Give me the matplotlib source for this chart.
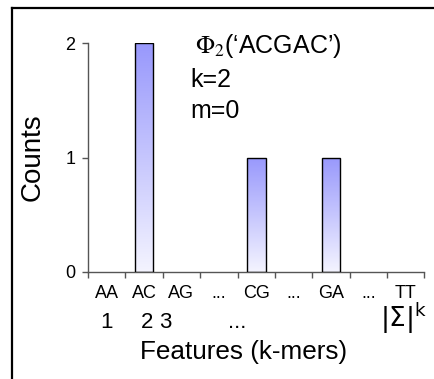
import matplotlib
matplotlib.use("Agg")
import matplotlib.pyplot as plt
import numpy as np
from matplotlib.lines import Line2D
import matplotlib.transforms as mtransforms

plt.rcParams['font.family'] = ['Liberation Sans', 'DejaVu Sans']

# ---- data ----
kmers = ['AA', 'AC', 'AG', '...', 'CG', '...', 'GA', '...', 'TT']
counts = [0, 2, 0, 0, 1, 0, 1, 0, 0]
index_labels = ['1', '2', '3', '...', r'$|\Sigma|^{\mathrm{k}}$']
index_pos = [0.0, 1.08, 1.58, 3.5, 7.95]
yticks = [0, 1, 2]
title_text = r"$\Phi_2$(‘ACGAC’)"
k_text = "k=2"
m_text = "m=0"

W, H = 435, 379
fig = plt.figure(figsize=(W / 100, H / 100), dpi=100)
ax = fig.add_axes([88 / W, 1 - 272 / H, (424.4 - 88) / W, (272 - 43) / H])

x = np.arange(len(kmers))
vals = np.array(counts, dtype=float)
mask = vals > 0
bars = ax.bar(x[mask], vals[mask], width=0.5, facecolor='none',
              edgecolor='black', linewidth=1.0, zorder=3)

# gradient fill in bars
cmap = matplotlib.colors.LinearSegmentedColormap.from_list(
    'g', ['#f4f4ff', '#9898fc'])
grad = np.linspace(0, 1, 256).reshape(-1, 1)
for b in bars:
    x0, y0 = b.get_x(), b.get_y()
    w, h = b.get_width(), b.get_height()
    im = ax.imshow(grad, cmap=cmap, origin='lower', aspect='auto',
                   extent=[x0, x0 + w, y0, y0 + h], zorder=2)
    im.set_clip_path(b)

ax.set_xlim(-0.5, len(kmers) - 0.5)
ax.set_ylim(0, 2)
ax.set_xticks(np.arange(len(kmers) + 1) - 0.5)
ax.set_xticklabels([])
ax.set_yticks(yticks)
ax.set_yticklabels([str(v) for v in yticks], fontsize=13)

for s in ['top', 'right']:
    ax.spines[s].set_visible(False)
for s in ['left', 'bottom']:
    ax.spines[s].set_color('#555555')
    ax.spines[s].set_linewidth(1.0)
ax.tick_params(axis='both', direction='out', length=4, width=1.0,
               color='#555555', pad=5)

# k-mer labels row
trans = mtransforms.blended_transform_factory(ax.transData, fig.transFigure)
for xi, lab in zip(x, kmers):
    ax.text(xi, 1 - 293 / H, lab, transform=trans, ha='center', va='center',
            fontsize=13, clip_on=False)
for xi, lab in zip(index_pos, index_labels):
    fs = 19 if lab.startswith('$') else 16
    yy = 1 - 318 / H if lab.startswith('$') else 1 - 322 / H
    ax.text(xi, yy, lab, transform=trans, ha='center', va='center',
            fontsize=fs, clip_on=False)

fig.text(243.5 / W, 1 - 352 / H, 'Features (k-mers)', ha='center',
         va='center', fontsize=18.8)
fig.text(33 / W, 1 - 157.5 / H, 'Counts', ha='center', va='center',
         rotation=90, fontsize=20)

fig.text(195 / W, 1 - 46 / H, title_text, ha='left', va='center',
         fontsize=18, math_fontfamily='stix')
fig.text(190 / W, 1 - 80 / H, k_text, ha='left', va='center', fontsize=18)
fig.text(190 / W, 1 - 111 / H, m_text, ha='left', va='center', fontsize=18)

# figure frame (left and top lines)
fig.add_artist(Line2D([12 / W, 12 / W], [0, 1 - 7.5 / H], color='black',
                      linewidth=1.6, transform=fig.transFigure))
fig.add_artist(Line2D([12 / W, 1], [1 - 7.5 / H, 1 - 7.5 / H], color='black',
                      linewidth=1.6, transform=fig.transFigure))

fig.savefig('out.png', dpi=100)
